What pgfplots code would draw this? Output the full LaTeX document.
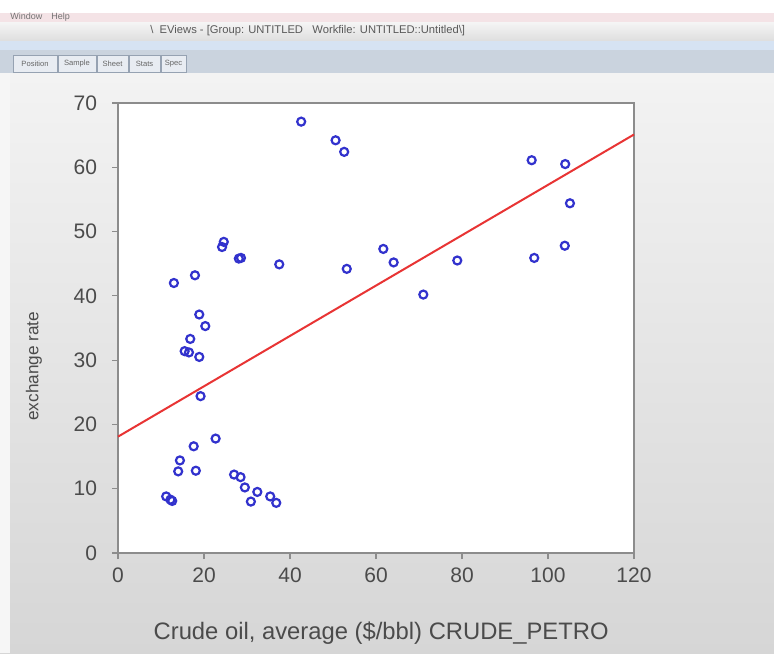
\documentclass[border=0pt]{standalone}
\usepackage{fontspec}
\setmainfont{Liberation Sans}
\usepackage{pgfplots}
\pgfplotsset{compat=1.18}
\definecolor{ptblue}{RGB}{50,50,205}
\definecolor{fitred}{RGB}{232,52,52}
\definecolor{framegray}{RGB}{140,140,140}
\definecolor{txtgray}{RGB}{75,75,75}
\definecolor{tabbar}{RGB}{202,211,222}
\definecolor{lblue}{RGB}{214,227,243}
\definecolor{pinkbar}{RGB}{244,227,230}
\definecolor{tabbtn}{RGB}{232,236,242}
\definecolor{tabedge}{RGB}{150,162,178}
\definecolor{paneltop}{RGB}{243,243,243}
\definecolor{panelbot}{RGB}{214,214,214}
\definecolor{panelleft}{RGB}{246,246,246}
\definecolor{titletop}{RGB}{245,245,245}
\definecolor{titlebot}{RGB}{222,222,222}
\begin{document}
\begin{tikzpicture}
\useasboundingbox (0,0) rectangle (387pt,326.5pt);
% window panel
\shade[top color=paneltop, bottom color=panelbot] (0,0) rectangle (387pt,290pt);
\fill[panelleft] (0,0) rectangle (5pt,290pt);
% tab bar
\fill[tabbar] (0,290pt) rectangle (387pt,301.5pt);
\fill[lblue] (0,301.5pt) rectangle (387pt,306pt);
\shade[top color=titletop, bottom color=titlebot] (0,306pt) rectangle (387pt,315.5pt);
\fill[pinkbar] (0,315.5pt) rectangle (387pt,320pt);
\fill[white] (0,320pt) rectangle (387pt,326.5pt);
\node[anchor=west, font=\fontsize{4.5}{5}\selectfont, text=black!55, inner sep=0pt] at (5pt,318pt) {Window\quad Help};
\node[anchor=base west, font=\fontsize{5.6}{6}\selectfont, text=black!65, inner sep=0pt] at (75pt,309.5pt) {\textbackslash\ \ EViews - [Group: UNTITLED\ \ \ Workfile: UNTITLED::Untitled\textbackslash]};
% tab buttons
\foreach \a/\b/\t in {6.5/28.5/Position, 29/48/Sample, 48.5/64/Sheet, 64.5/80/Stats, 80.5/93/Spec}{
  \draw[fill=tabbtn, draw=tabedge, line width=0.3pt] (\a pt,290.5pt) rectangle (\b pt,299pt);
  \node[font=\fontsize{3.8}{4}\selectfont, text=black!60, inner sep=0pt] at ({(\a+\b)/2*1pt},294.8pt) {\t};
}
\begin{axis}[
  at={(59pt,50pt)}, anchor=south west,
  scale only axis, width=258pt, height=225pt,
  xmin=0, xmax=120, ymin=0, ymax=70,
  xtick={0,20,...,120}, ytick={0,10,...,70},
  xtick pos=lower, ytick pos=left,
  tick align=outside, major tick length=3pt,
  axis line style={draw=framegray, line width=0.75pt},
  tick style={draw=framegray, line width=0.6pt},
  axis background/.style={fill=white},
  /pgf/number format/assume math mode=true,
  ticklabel style={font=\fontsize{10.5}{12}\selectfont, text=txtgray},
  yticklabel style={xshift=-4pt},
  xticklabel style={yshift=-1pt},
  clip=false,
]
\addplot[only marks, mark=o, mark size=2pt, mark options={draw=ptblue, line width=1.1pt}] coordinates {
(42.6,67.1)(50.6,64.2)(52.6,62.4)(96.2,61.1)(104.0,60.5)(105.1,54.4)
(103.9,47.8)(96.8,45.9)(78.9,45.5)(71.0,40.2)(61.7,47.3)(64.1,45.2)
(53.2,44.2)(37.5,44.9)(28.1,45.8)(28.6,45.9)(24.6,48.4)(24.2,47.6)
(17.9,43.2)(13.0,42.0)(18.9,37.1)(20.3,35.3)(16.8,33.3)(15.5,31.4)
(16.5,31.2)(18.9,30.5)(19.2,24.4)(22.7,17.8)(17.6,16.6)(14.4,14.4)
(14.0,12.7)(18.1,12.8)(11.2,8.8)(12.2,8.3)(12.6,8.1)(27.0,12.2)
(28.5,11.8)(29.5,10.2)(32.4,9.5)(30.9,8.0)(35.4,8.8)(36.8,7.8)
};
\addplot[fitred, line width=1pt] coordinates {(0,18.1)(120,65.1)};
\node[font=\fontsize{11.9}{13}\selectfont, text=txtgray] at ([yshift=-40pt]rel axis cs:0.51,0) {Crude oil, average (\$/bbl) CRUDE\_PETRO};
\node[rotate=90, font=\fontsize{8.6}{10}\selectfont, text=txtgray] at ([xshift=-42pt]rel axis cs:0,0.415) {exchange rate};
\end{axis}
\end{tikzpicture}
\end{document}
